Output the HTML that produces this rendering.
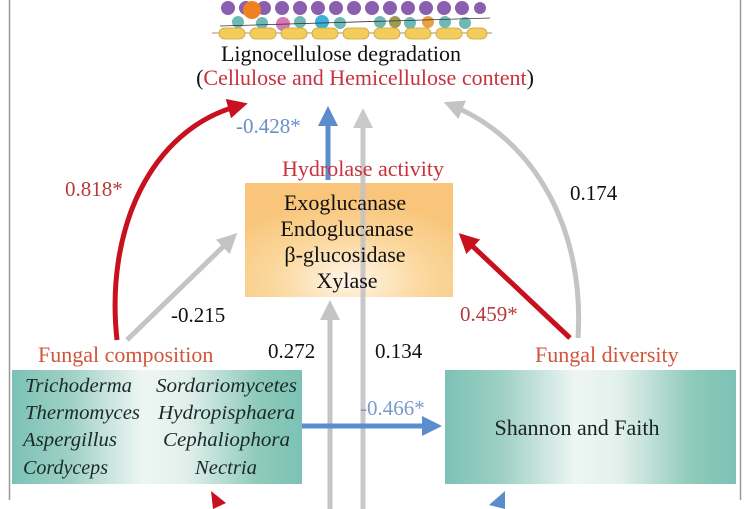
<!DOCTYPE html>
<html><head><meta charset="utf-8"><style>
html,body{margin:0;padding:0;background:#fff;width:750px;height:509px;overflow:hidden}
svg{display:block}
text{font-family:"Liberation Serif",serif}
</style></head><body>
<svg width="750" height="509" viewBox="0 0 750 509" xmlns="http://www.w3.org/2000/svg">
<defs>
<radialGradient id="org" cx="0.5" cy="0.85" r="0.7">
<stop offset="0" stop-color="#fff6ea"/><stop offset="0.5" stop-color="#fbd9a0"/><stop offset="1" stop-color="#f8c57a"/>
</radialGradient>
<linearGradient id="teal" x1="0" y1="0" x2="1" y2="0">
<stop offset="0" stop-color="#7cc2b6"/><stop offset="0.2" stop-color="#9fd0c5"/><stop offset="0.45" stop-color="#eef6f3"/><stop offset="0.6" stop-color="#e2f0ec"/><stop offset="0.85" stop-color="#8ecab9"/><stop offset="1" stop-color="#7cc2b6"/>
</linearGradient>
<marker id="ar" markerWidth="4" markerHeight="4" refX="2" refY="2" orient="auto" markerUnits="strokeWidth"><path d="M0,0 L4,2 L0,4 z" fill="#c8101e"/></marker>
<marker id="ag" markerWidth="4" markerHeight="4" refX="2" refY="2" orient="auto" markerUnits="strokeWidth"><path d="M0,0 L4,2 L0,4 z" fill="#c4c4c4"/></marker>
<marker id="ab" markerWidth="4" markerHeight="4" refX="2" refY="2" orient="auto" markerUnits="strokeWidth"><path d="M0,0 L4,2 L0,4 z" fill="#5b8ccc"/></marker>
</defs>
<line x1="9.5" y1="0" x2="9.5" y2="500" stroke="#999" stroke-width="1.5"/>
<line x1="740.5" y1="0" x2="740.5" y2="500" stroke="#999" stroke-width="1.5"/>
<g>
<g fill="#8a5fb0">
<circle cx="228" cy="8" r="7"/><circle cx="246" cy="8" r="7"/><circle cx="264" cy="8" r="7"/><circle cx="282" cy="8" r="7"/><circle cx="300" cy="8" r="7"/><circle cx="318" cy="8" r="7"/><circle cx="336" cy="8" r="7"/><circle cx="354" cy="8" r="7"/><circle cx="372" cy="8" r="7"/><circle cx="390" cy="8" r="7"/><circle cx="408" cy="8" r="7"/><circle cx="426" cy="8" r="7"/><circle cx="444" cy="8" r="7"/><circle cx="462" cy="8" r="7"/><circle cx="480" cy="8" r="6"/>
</g>
<circle cx="252" cy="10" r="9" fill="#f08020"/>
<g fill="#6fb9b5">
<circle cx="238" cy="22" r="6"/><circle cx="262" cy="23" r="6"/><circle cx="300" cy="22" r="6"/><circle cx="340" cy="23" r="6"/><circle cx="380" cy="22" r="6"/><circle cx="410" cy="23" r="6"/><circle cx="445" cy="22" r="6"/><circle cx="465" cy="23" r="6"/>
</g>
<circle cx="283" cy="24" r="7" fill="#d679b8"/><circle cx="322" cy="22" r="7" fill="#3cb0d8"/><circle cx="428" cy="22" r="6" fill="#e8a040"/><circle cx="395" cy="22" r="6" fill="#9a9a50"/>
<line x1="220" y1="26" x2="490" y2="18" stroke="#333" stroke-width="0.8"/>
<line x1="212" y1="33" x2="492" y2="33" stroke="#b09050" stroke-width="1"/>
<g fill="#f3cd5c" stroke="#c9a040" stroke-width="0.8">
<rect x="219" y="28" width="26" height="11" rx="5.5"/><rect x="250" y="28" width="26" height="11" rx="5.5"/><rect x="281" y="28" width="26" height="11" rx="5.5"/><rect x="312" y="28" width="26" height="11" rx="5.5"/><rect x="343" y="28" width="26" height="11" rx="5.5"/><rect x="374" y="28" width="26" height="11" rx="5.5"/><rect x="405" y="28" width="26" height="11" rx="5.5"/><rect x="436" y="28" width="26" height="11" rx="5.5"/><rect x="467" y="28" width="20" height="11" rx="5.5"/>
</g>
</g>
<text x="341" y="61" font-size="22" text-anchor="middle" fill="#111">Lignocellulose degradation</text>
<text x="365" y="85" font-size="22" text-anchor="middle" fill="#c8323e"><tspan fill="#111">(</tspan>Cellulose and Hemicellulose content<tspan fill="#111">)</tspan></text>

<rect x="245" y="183" width="208" height="114" fill="url(#org)"/>
<rect x="12" y="370" width="290" height="114" fill="url(#teal)"/>
<rect x="445" y="370" width="291" height="114" fill="url(#teal)"/>

<line x1="363" y1="509" x2="363" y2="118" stroke="#c4c4c4" stroke-width="5" marker-end="url(#ag)" opacity="0.9"/>
<line x1="330" y1="509" x2="330" y2="310" stroke="#c4c4c4" stroke-width="5" marker-end="url(#ag)"/>
<line x1="328" y1="180" x2="328" y2="116" stroke="#5b8ccc" stroke-width="5" marker-end="url(#ab)"/>
<path d="M117,340 C105,230 150,130 238,106" fill="none" stroke="#c8101e" stroke-width="5" marker-end="url(#ar)"/>
<line x1="127" y1="340" x2="230" y2="240" stroke="#c4c4c4" stroke-width="5" marker-end="url(#ag)"/>
<path d="M578,338 C585,230 535,140 453,106" fill="none" stroke="#c4c4c4" stroke-width="5" marker-end="url(#ag)"/>
<line x1="570" y1="338" x2="466" y2="240" stroke="#c8101e" stroke-width="5" marker-end="url(#ar)"/>
<line x1="302" y1="426" x2="432" y2="426" stroke="#5b8ccc" stroke-width="5" marker-end="url(#ab)"/>
<path d="M211,491 L226,503 L213,509 z" fill="#c8101e"/>
<path d="M505,491 L489,505 L505,509 z" fill="#5b8ccc"/>

<text x="236" y="133" font-size="21" fill="#6b8ec8">-0.428*</text>
<text x="363" y="176" font-size="22" text-anchor="middle" fill="#c8323e">Hydrolase activity</text>
<g font-size="22" fill="#111" text-anchor="middle">
<text x="345" y="210">Exoglucanase</text>
<text x="347" y="236">Endoglucanase</text>
<text x="345" y="262">β-glucosidase</text>
<text x="347" y="288">Xylase</text>
</g>
<text x="65" y="196" font-size="21" fill="#b83a3a">0.818*</text>
<text x="171" y="322" font-size="21" fill="#111">-0.215</text>
<text x="570" y="200" font-size="21" fill="#111">0.174</text>
<text x="460" y="321" font-size="21" fill="#b83a3a">0.459*</text>
<text x="268" y="358" font-size="21" fill="#111">0.272</text>
<text x="375" y="358" font-size="21" fill="#111">0.134</text>
<text x="38" y="362" font-size="22" fill="#d0553a">Fungal composition</text>
<text x="535" y="362" font-size="22" fill="#d0553a">Fungal diversity</text>
<text x="360" y="415" font-size="21" fill="#7a9ac8">-0.466*</text>
<g font-size="20" font-style="italic" fill="#1a2a28">
<text x="25" y="392" textLength="107" lengthAdjust="spacingAndGlyphs">Trichoderma</text>
<text x="156" y="392" textLength="141" lengthAdjust="spacingAndGlyphs">Sordariomycetes</text>
<text x="25" y="419" textLength="115" lengthAdjust="spacingAndGlyphs">Thermomyces</text>
<text x="158" y="419" textLength="137" lengthAdjust="spacingAndGlyphs">Hydropisphaera</text>
<text x="23" y="446" textLength="94" lengthAdjust="spacingAndGlyphs">Aspergillus</text>
<text x="163" y="446" textLength="127" lengthAdjust="spacingAndGlyphs">Cephaliophora</text>
<text x="23" y="474" textLength="85" lengthAdjust="spacingAndGlyphs">Cordyceps</text>
<text x="195" y="474" textLength="62" lengthAdjust="spacingAndGlyphs">Nectria</text>
</g>
<text x="577" y="435" font-size="22" text-anchor="middle" fill="#1a2222">Shannon and Faith</text>
</svg>
</body></html>
